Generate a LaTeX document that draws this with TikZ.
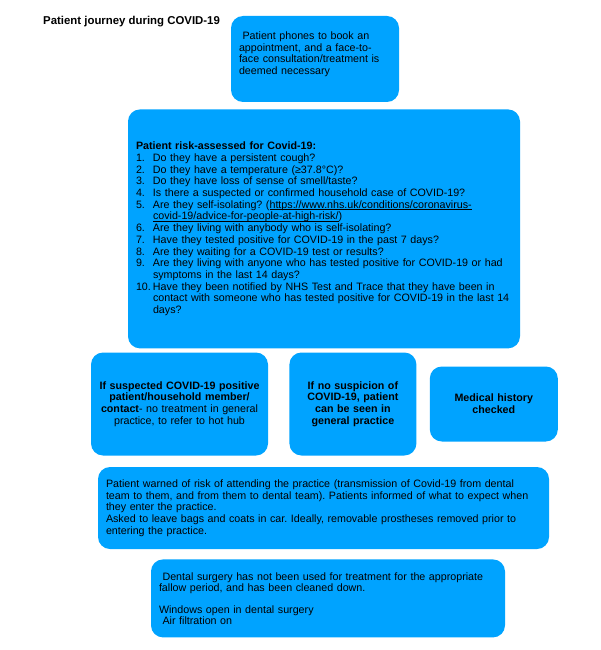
\documentclass[tikz,border=0pt]{standalone}
\usepackage{fontspec}
\setmainfont{Liberation Sans}
\usepackage{tikz}
\usetikzlibrary{positioning}
\frenchspacing

\definecolor{jblue}{RGB}{0,163,255}
\newcommand{\ulink}[1]{\setbox0\hbox{#1}\rlap{\rule[-1.3pt]{\wd0}{0.45pt}}\box0}

\begin{document}
\begin{tikzpicture}[
  x=1pt, y=-1pt,
  font=\fontsize{10.7}{11.7}\selectfont,
  node distance=10pt and 10pt,
  stage/.style={rectangle, rounded corners=12pt, fill=jblue, draw=none,
    align=left, inner xsep=8pt, inner ysep=2pt},
  check/.style={stage, align=center},
  title/.style={font=\fontsize{11.4}{13}\selectfont\bfseries, inner sep=0pt}
]
\useasboundingbox (0,0) rectangle (600,650);
% Heading
\node[title, anchor=west] (head) at (43,22) {Patient journey during COVID-19};
% Booking
\node[stage, text width=152pt, minimum height=86pt] (phone) at (315,59)
  {\ Patient phones to book an\\appointment, and a face-to-\\face consultation/treatment is\\deemed necessary\\ \mbox{}};
% Risk assessment
\node[stage, text width=376pt, minimum height=239pt, below=7pt of phone,
      xshift=9pt] (risk)
  {\textbf{Patient risk-assessed for Covid-19:}\\
   \makebox[17pt][l]{1.}Do they have a persistent cough?\\
   \makebox[17pt][l]{2.}Do they have a temperature (≥37.8°C)?\\
   \makebox[17pt][l]{3.}Do they have loss of sense of smell/taste?\\
   \makebox[17pt][l]{4.}Is there a suspected or confirmed household case of COVID-19?\\
   \makebox[17pt][l]{5.}Are they self-isolating? (\ulink{https://www.nhs.uk/conditions/coronavirus-}\\
   \hspace*{17pt}\ulink{covid-19/advice-for-people-at-high-risk/})\\
   \makebox[17pt][l]{6.}Are they living with anybody who is self-isolating?\\
   \makebox[17pt][l]{7.}Have they tested positive for COVID-19 in the past 7 days?\\
   \makebox[17pt][l]{8.}Are they waiting for a COVID-19 test or results?\\
   \makebox[17pt][l]{9.}Are they living with anyone who has tested positive for COVID-19 or had\\
   \hspace*{17pt}symptoms in the last 14 days?\\
   \makebox[17pt][l]{10.}Have they been notified by NHS Test and Trace that they have been in\\
   \hspace*{17pt}contact with someone who has tested positive for COVID-19 in the last 14\\
   \hspace*{17pt}days?};
% Outcomes
\node[check, text width=163pt, minimum height=103pt, inner xsep=7pt]
  (suspect) at (179.5,404)
  {\textbf{If suspected COVID-19 positive}\\\textbf{patient/household member/}\\
   \textbf{contact}- no treatment in general\\practice, to refer to hot hub};
\node[check, text width=111pt, minimum height=103pt, right=21pt of suspect]
  (nosusp)
  {\textbf{If no suspicion of}\\\textbf{COVID-19, patient}\\
   \textbf{can be seen in}\\\textbf{general practice}};
\node[check, text width=112pt, minimum height=75pt, right=13pt of nosusp]
  (medhist) {\textbf{Medical history}\\\textbf{checked}};
% Warning
\node[stage, text width=435pt, minimum height=82pt] (warn) at (323.5,508)
  {Patient warned of risk of attending the practice (transmission of Covid-19 from dental\\
   team to them, and from them to dental team). Patients informed of what to expect when\\
   they enter the practice.\\
   Asked to leave bags and coats in car. Ideally, removable prostheses removed prior to\\
   entering the practice.};
% Surgery ready
\node[stage, text width=338pt, minimum height=78pt, below=10pt of warn,
      xshift=4.5pt, font=\fontsize{10.7}{11}\selectfont] (surgery)
  {\ Dental surgery has not been used for treatment for the appropriate\\
   fallow period, and has been cleaned down.\\[11pt]
   Windows open in dental surgery\\
   \ Air filtration on};
\end{tikzpicture}
\end{document}
